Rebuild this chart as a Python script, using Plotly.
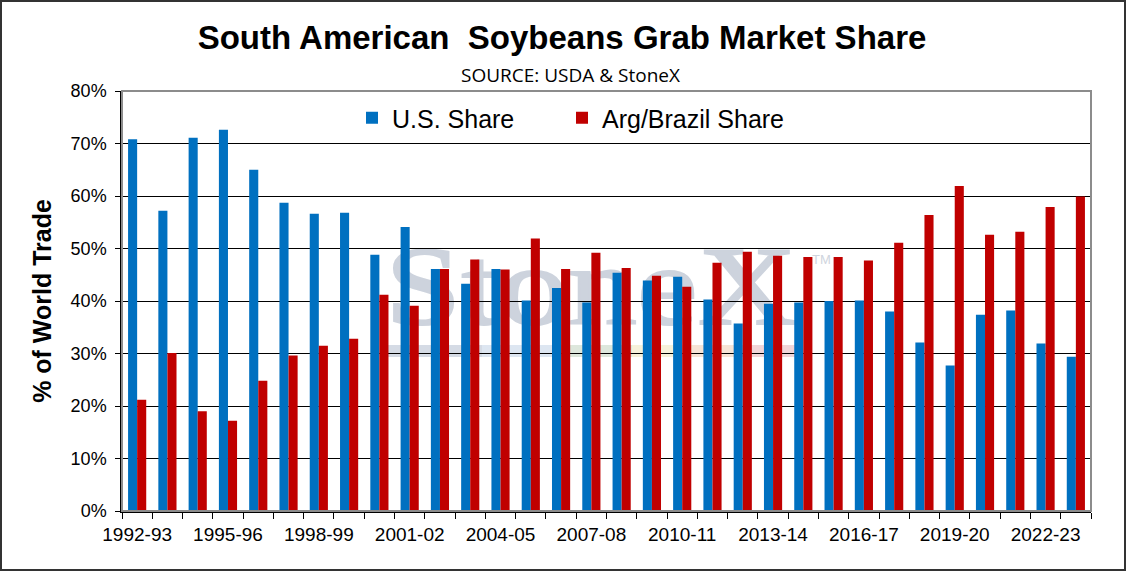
import plotly.graph_objects as go

seasons = [f"{y}-{str(y + 1)[-2:]}" for y in range(1992, 2024)]
us_share = [70.8, 57.2, 71.1, 72.6, 65.0, 58.7, 56.6, 56.8, 48.8, 54.1,
            46.1, 43.3, 46.1, 40.1, 42.5, 39.7, 45.4, 43.9, 44.6, 40.3,
            35.7, 39.5, 39.7, 40.0, 40.1, 38.0, 32.1, 27.7, 37.4, 38.2,
            31.9, 29.4]
sa_share = [21.2, 30.1, 19.0, 17.2, 24.8, 29.6, 31.5, 32.8, 41.2, 39.1,
            46.1, 47.9, 46.0, 51.9, 46.1, 49.2, 46.3, 44.8, 42.7, 47.3,
            49.4, 48.6, 48.4, 48.4, 47.7, 51.1, 56.4, 61.9, 52.6, 53.2,
            57.9, 59.9]
tick_labels = [s if i % 3 == 0 else "" for i, s in enumerate(seasons)]

W, H = 1126, 571
L, R, T, B = 122, 35, 91, 60
pw, ph = W - L - R, H - T - B

fig = go.Figure()
fig.add_trace(go.Bar(name="U.S. Share", x=seasons, y=[v / 100 for v in us_share],
                     marker_color="#0070C0", marker_line_width=0, legend="legend"))
fig.add_trace(go.Bar(name="Arg/Brazil Share", x=seasons, y=[v / 100 for v in sa_share],
                     marker_color="#C00000", marker_line_width=0, legend="legend2"))

# faint StoneX watermark behind the bars
svg = ("data:image/svg+xml;utf8,"
       "<svg xmlns='http://www.w3.org/2000/svg' width='460' height='120'>"
       "<text x='5' y='84' font-family='Liberation Serif, DejaVu Serif, serif' font-size='112' "
       "fill='%23cdd3dd' stroke='%23cdd3dd' stroke-width='2' textLength='412' "
       "lengthAdjust='spacingAndGlyphs'>StoneX</text>"
       "<text x='432' y='24' font-family='Liberation Sans' font-size='13' fill='%23cfd5de'>TM</text>"
       "<rect x='7' y='105' width='95' height='12' fill='%23d5dbe5'/>"
       "<rect x='102' y='105' width='85' height='12' fill='%23dde6f1'/>"
       "<rect x='187' y='105' width='65' height='12' fill='%23dde7dc'/>"
       "<rect x='252' y='105' width='60' height='12' fill='%23f6f1da'/>"
       "<rect x='312' y='105' width='50' height='12' fill='%23f6e4d6'/>"
       "<rect x='362' y='105' width='53' height='12' fill='%23f1d5d8'/>"
       "</svg>")
fig.add_layout_image(dict(source=svg, xref="paper", yref="paper",
                          x=(380 - L) / pw, y=1 - (240 - T) / ph,
                          sizex=460 / pw, sizey=120 / ph, xanchor="left", yanchor="top",
                          sizing="stretch", layer="below", opacity=1))

leg_common = dict(orientation="h", xanchor="left", y=1 - (118 - T) / ph, yanchor="middle",
                  font=dict(size=25), bgcolor="rgba(0,0,0,0)", itemwidth=30)

fig.update_layout(
    width=W, height=H,
    margin=dict(l=L, r=R, t=T, b=B),
    paper_bgcolor="white", plot_bgcolor="rgba(0,0,0,0)",
    barmode="group", bargap=0.4, bargroupgap=0,
    font=dict(family="Liberation Sans, Arial", color="black"),
    title=dict(text="<b>South American  Soybeans Grab Market Share</b>",
               x=(562 - L) / pw, xref="paper", xanchor="center", y=1 - 37 / H, yanchor="middle",
               font=dict(size=33, color="black")),
    legend=dict(x=(352 - L) / pw, **leg_common),
    legend2=dict(x=(562 - L) / pw, **leg_common),
    xaxis=dict(type="category", tickmode="array", tickvals=seasons, ticktext=tick_labels,
               tickson="boundaries", ticks="outside", ticklen=6, tickcolor="black",
               showline=True, linecolor="black", linewidth=1.5, ticklabelstandoff=5,
               tickfont=dict(size=19), tickangle=0, showgrid=False),
    yaxis=dict(range=[0, 0.8], dtick=0.1, tickformat=".0%",
               ticks="outside", ticklen=5, tickcolor="black",
               showline=True, linecolor="black", linewidth=1.5, ticklabelstandoff=5,
               gridcolor="black", gridwidth=1, tickfont=dict(size=18),
               title=dict(text="<b>% of World Trade</b>", font=dict(size=25), standoff=12),
               zeroline=False),
    showlegend=True,
)

fig.add_annotation(text="SOURCE: USDA & StoneX", xref="paper", yref="paper",
                   x=(570 - L) / pw, y=1 + (T - 75) / ph, xanchor="center", yanchor="middle",
                   showarrow=False, font=dict(size=19, family="Open Sans, Liberation Sans"))

# plot area border (gray top/right)
fig.add_shape(type="rect", xref="paper", yref="paper", x0=0, y0=0, x1=1, y1=1,
              line=dict(color="#8c8c8c", width=2), layer="above")
# outer figure border
fig.add_shape(type="rect", xref="paper", yref="paper",
              x0=-(L - 1) / pw, x1=1 + (R - 1) / pw, y0=-(B - 1) / ph, y1=1 + (T - 1) / ph,
              line=dict(color="#333333", width=2), layer="above")

fig.write_html("out.html", config={"displayModeBar": False},
               post_script="document.body.style.margin='0';")
